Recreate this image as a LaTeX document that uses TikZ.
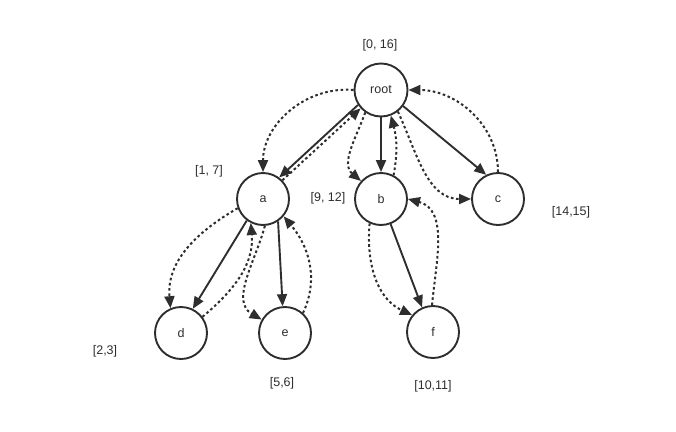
\documentclass[tikz,border=0pt]{standalone}
\usepackage{fontspec}
\setmainfont{Liberation Sans}
\usetikzlibrary{arrows.meta}
\definecolor{ink}{HTML}{2E2E2E}
\begin{document}
\begin{tikzpicture}[x=1pt,y=-1pt,
  vertex/.style={circle,draw=ink,line width=1.9pt,minimum size=52pt,inner sep=0pt,
                 text=ink,font=\fontsize{12.5}{14}\selectfont},
  tree/.style={draw=ink,line width=1.9pt,-{Triangle[length=12pt,width=10pt]}},
  walk/.style={draw=ink,line width=2pt,dash pattern=on 2.6pt off 2.6pt,
               -{Triangle[length=12pt,width=10pt]}},
  interval/.style={text=ink,font=\fontsize{12.5}{14}\selectfont}]
\useasboundingbox (0,0) rectangle (676,431);

% vertices
\node[vertex,minimum size=53pt] (root) at (381,90) {root};
\node[vertex] (a) at (263,199) {a};
\node[vertex] (b) at (381,199) {b};
\node[vertex] (c) at (498,199) {c};
\node[vertex] (d) at (181,333) {d};
\node[vertex] (e) at (285,333) {e};
\node[vertex] (f) at (433,332) {f};

% visit intervals
\node[interval] (lroot) at (380,45)  {[0, 16]};
\node[interval] (la)    at (209,171) {[1, 7]};
\node[interval] (lb)    at (328,198) {[9, 12]};
\node[interval] (lc)    at (571,212) {[14,15]};
\node[interval] (ld)    at (105,351) {[2,3]};
\node[interval] (le)    at (282,383) {[5,6]};
\node[interval] (lf)    at (433,386) {[10,11]};

% tree edges
\draw[tree] (root.213) -- (a.53);
\draw[tree] (root.270) -- (b.90);
\draw[tree] (root.-36) -- (c.116);
\draw[tree] (a.233) -- (d.64);
\draw[tree] (a.304) -- (e.95);
\draw[tree] (b.291) -- (f.114);

% depth-first walk
\draw[walk] (root.180) to[out=175,in=90] (a.90);
\draw[walk] (a.44) -- (root.222);
\draw[walk] (a.200) to[out=210,in=95] (d.113);
\draw[walk] (d.37) to[out=40,in=-85] (a.243);
\draw[walk] (a.274) to[out=255,in=150] (e.150);
\draw[walk] (e.48) to[out=65,in=-50] (a.320);
\draw[walk] (root.235) to[out=250,in=140] (b.138);
\draw[walk] (b.245) to[out=265,in=155] (f.141);
\draw[walk] (f.92) to[out=85,in=-15] (b.0);
\draw[walk] (b.62) to[out=80,in=-75] (root.291);
\draw[walk] (root.308) to[out=-65,in=180] (c.180);
\draw[walk] (c.90) to[out=90,in=0] (root.0);
\end{tikzpicture}
\end{document}
